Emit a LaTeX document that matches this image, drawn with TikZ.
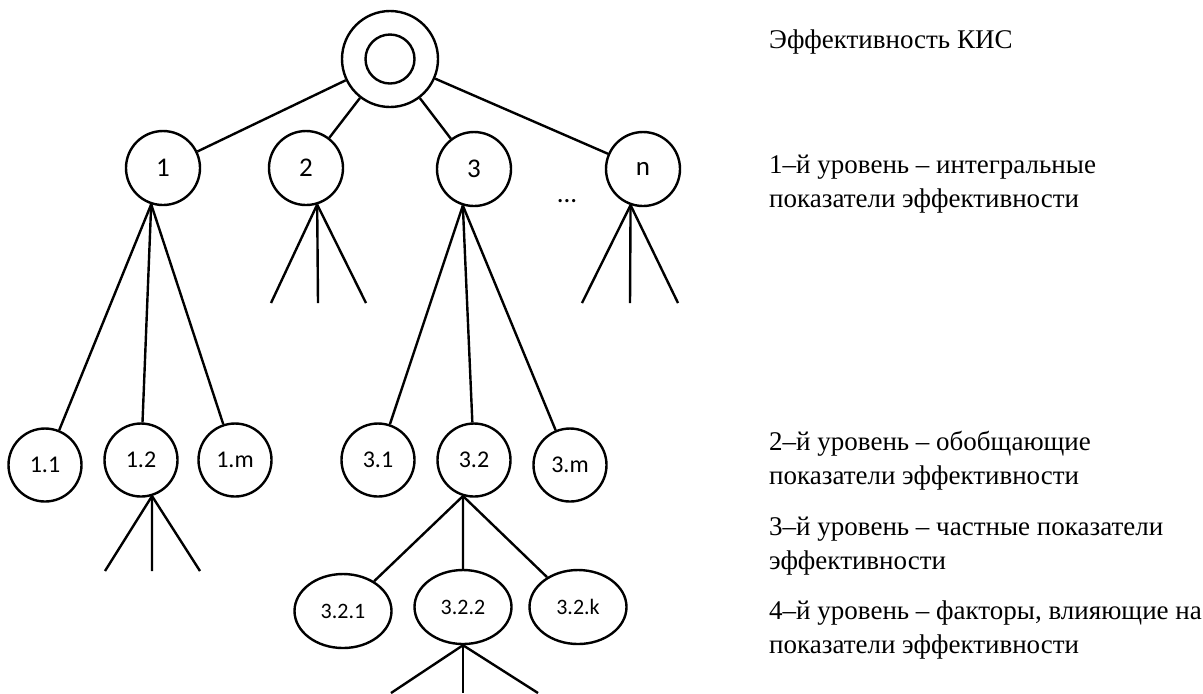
\documentclass[tikz,border=0pt]{standalone}
\usepackage{fontspec}
\setmainfont{Liberation Serif}
\newfontfamily\calibri{Carlito}
\usetikzlibrary{positioning,shapes.geometric}

\begin{document}
\begin{tikzpicture}[x=0.5pt,y=-0.5pt,line width=1.2pt,
    lvlone/.style={draw,circle,minimum size=37pt,inner sep=0pt,font=\calibri\fontsize{13.5}{16}\selectfont},
    lvltwo/.style={draw,circle,minimum size=36.5pt,inner sep=0pt,font=\calibri\fontsize{12}{14}\selectfont},
    lvlthree/.style={draw,ellipse,minimum width=48.5pt,minimum height=37pt,inner sep=0pt,font=\calibri\fontsize{11}{13}\selectfont},
    caption/.style={anchor=base west,inner sep=0pt,align=left,font=\fontsize{13.5}{16.75}\selectfont}]
    \useasboundingbox (0,0) rectangle (1203,693);

    % Define root and level nodes
    \node[draw,circle,minimum size=48pt,inner sep=0pt] (root) at (390,59) {};
    \node[draw,circle,minimum size=24.5pt,inner sep=0pt] (rootin) at (390,59) {};

    \node[lvlone] (n1) at (163,168) {1};
    \node[lvlone] (n2) at (306,168) {2};
    \node[lvlone] (n3) at (474,169) {3};
    \node[lvlone] (nn) at (643,169) {n};
    \node[font=\calibri\fontsize{13.5}{16}\selectfont] (dots) at (567,201) {...};

    \node[lvltwo] (n11) at (45,465) {1.1};
    \node[lvltwo] (n12) at (141,460) {1.2};
    \node[lvltwo] (n1m) at (235,460) {1.m};
    \node[lvltwo] (n31) at (378,460) {3.1};
    \node[lvltwo] (n32) at (474,460) {3.2};
    \node[lvltwo] (n3m) at (570,465) {3.m};

    \node[lvlthree] (n321) at (343,611) {3.2.1};
    \node[lvlthree] (n322) at (463,607) {3.2.2};
    \node[lvlthree] (n32k) at (578,607) {3.2.k};

    % Free ends of the open branches
    \coordinate (a1) at (271,303); \coordinate (a2) at (318,303); \coordinate (a3) at (366,303);
    \coordinate (b1) at (582,303); \coordinate (b2) at (630,303); \coordinate (b3) at (678,303);
    \coordinate (c1) at (105,571); \coordinate (c2) at (152,571); \coordinate (c3) at (200,571);
    \coordinate (d1) at (391,693); \coordinate (d2) at (463,693); \coordinate (d3) at (538,693);

    % Draw edges
    \foreach \child in {n1,n2,n3,nn} {
        \draw (root) -- (\child);
    }
    \foreach \child in {n11,n12,n1m} {
        \draw (n1.252) -- (\child);
    }
    \foreach \child in {n31,n32,n3m} {
        \draw (n3.253) -- (\child);
    }
    \foreach \child in {n321,n322,n32k} {
        \draw (n32.253) -- (\child);
    }
    \foreach \i in {1,2,3} {
        \draw (n2.287) -- (a\i);
        \draw (nn.251) -- (b\i);
        \draw (n12.287) -- (c\i);
        \draw (n322.south) -- (d\i);
    }

    % Captions of the levels (anchored at the last line)
    \node[caption] (t0) at (768,48) {Эффективность КИС};
    \node[caption] (t1) at (768,207) {1–й уровень – интегральные\\показатели эффективности};
    \node[caption] (t2) at (768,484) {2–й уровень – обобщающие\\показатели эффективности};
    \node[caption] (t3) at (768,569) {3–й уровень – частные показатели\\эффективности};
    \node[caption] (t4) at (768,653) {4–й уровень – факторы, влияющие на\\показатели эффективности};
\end{tikzpicture}
\end{document}
